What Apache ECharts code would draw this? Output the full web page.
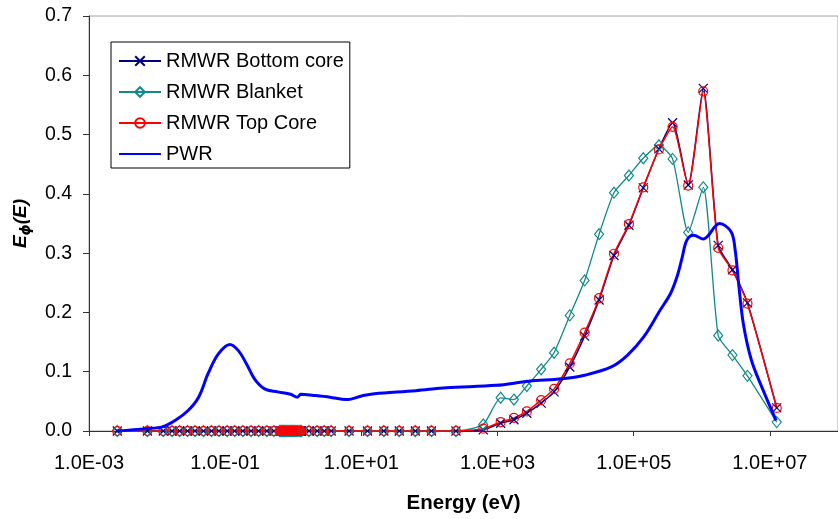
<!DOCTYPE html>
<html lang="en">
<head>
    <meta charset="UTF-8">
    <title>Neutron spectrum</title>
    <script src="https://cdn.jsdelivr.net/npm/echarts@6/dist/echarts.min.js"></script>
    <style>
        html, body { margin: 0; padding: 0; background: #fff; }
        #chart { width: 838px; height: 519px; }
    </style>
</head>
<body>
    <div id="chart"></div>

    <script>
        // energy groups (eV) where the RMWR flux is ~0
        var thermalEnergy = [0.0026, 0.0072, 0.0123, 0.0166, 0.0214, 0.028, 0.036, 0.048, 0.063, 0.081,
            0.107, 0.138, 0.182, 0.24, 0.31, 0.41, 0.52, 0.63, 0.65, 0.67, 0.69, 0.71, 0.73, 0.75,
            0.78, 0.80, 0.83, 0.86, 0.89, 0.92, 0.95, 0.98, 1.01, 1.05, 1.09, 1.13, 1.17, 1.22, 1.27,
            1.32, 1.7, 2.24, 2.85, 3.6, 6.6, 12.3, 21.4, 36, 62, 107, 245];
        var thermalFlux = [0, 0, 0, 0, 0, 0, 0, 0, 0, 0,
            0, 0, 0, 0, 0, 0, 0, 0, 0, 0, 0, 0, 0, 0,
            0, 0, 0, 0, 0, 0, 0, 0, 0, 0, 0, 0, 0, 0, 0,
            0, 0, 0, 0, 0, 0, 0, 0, 0, 0, 0, 0];

        // fast energy groups (eV)
        var fastEnergy = [617, 1110, 1740, 2690, 4370, 6760, 11500, 19000, 31000, 51300,
            85000, 138000, 234000, 372000, 631000, 1.05e6, 1.74e6, 2.82e6, 4.68e6, 1.26e7];
        var bottomCore = [0.002, 0.013, 0.019, 0.030, 0.047, 0.066, 0.108, 0.160, 0.221, 0.296,
            0.347, 0.410, 0.476, 0.520, 0.415, 0.578, 0.313, 0.272, 0.216, 0.039];
        var blanket = [0.011, 0.056, 0.053, 0.076, 0.104, 0.132, 0.195, 0.254, 0.332, 0.402,
            0.431, 0.460, 0.482, 0.459, 0.335, 0.411, 0.161, 0.128, 0.093, 0.015];
        var topCore = [0.004, 0.015, 0.022, 0.033, 0.052, 0.071, 0.114, 0.166, 0.224, 0.299,
            0.349, 0.411, 0.475, 0.513, 0.414, 0.573, 0.309, 0.271, 0.215, 0.039];

        // PWR spectrum
        var pwrEnergy = [0.00257, 0.00692, 0.0120, 0.0186, 0.0288, 0.0407, 0.0562, 0.0794, 0.117, 0.155,
            0.204, 0.269, 0.380, 0.589, 0.912, 1.15, 1.29, 2.0, 3.47, 6.03, 10.7, 15.5, 63, 178, 955,
            2880, 8900, 19000, 46800, 81300, 141000, 245000, 347000, 437000, 513000, 603000, 759000,
            1.05e6, 1.82e6, 2.69e6, 3.09e6, 3.47e6, 4.07e6, 5.37e6, 7.94e6, 1.23e7];
        var pwrFlux = [0, 0.004, 0.007, 0.018, 0.035, 0.057, 0.097, 0.130, 0.146, 0.136,
            0.114, 0.088, 0.071, 0.066, 0.062, 0.057, 0.062, 0.060, 0.057, 0.053, 0.060, 0.063, 0.068, 0.073, 0.077,
            0.084, 0.088, 0.094, 0.108, 0.128, 0.159, 0.204, 0.232, 0.262, 0.292, 0.322, 0.330,
            0.324, 0.350, 0.336, 0.305, 0.249, 0.181, 0.119, 0.069, 0.018];

        var xTicks = [1e-3, 1e-1, 1e1, 1e3, 1e5, 1e7];

        function pairs(xs, ys) {
            var out = [];
            for (var i = 0; i < xs.length; i++) out.push([xs[i], ys[i]]);
            return out;
        }

        function rmwr(ys) {
            return pairs(thermalEnergy, thermalFlux).concat(pairs(fastEnergy, ys));
        }

        function sciLabel(v) {
            var e = Math.round(Math.log10(v));
            var s = String(Math.abs(e));
            if (s.length < 2) s = '0' + s;
            return '1.0E' + (e < 0 ? '-' : '+') + s;
        }

        var font = 'Liberation Sans, Arial, sans-serif';
        var chart = echarts.init(document.getElementById('chart'));

        var option = {
            animation: false,
            backgroundColor: '#fff',
            textStyle: { fontFamily: font },
            grid: {
                left: 89, top: 16, right: -10, bottom: 88,
                show: true, borderColor: '#a0a0a0', borderWidth: 1
            },
            legend: {
                orient: 'vertical',
                left: 111, top: 42,
                itemWidth: 42, itemHeight: 12, itemGap: 11,
                padding: [9, 6, 4, 7],
                borderColor: '#000', borderWidth: 1, borderRadius: 0,
                backgroundColor: '#fff',
                textStyle: { fontSize: 20, color: '#000', fontFamily: font },
                data: [
                    'RMWR Bottom core',
                    'RMWR Blanket',
                    'RMWR Top Core',
                    { name: 'PWR', itemStyle: { opacity: 0 } }
                ]
            },
            xAxis: {
                type: 'log',
                logBase: 10,
                min: 1e-3,
                max: 1e8,
                name: 'Energy (eV)',
                nameLocation: 'middle',
                nameGap: 62,
                nameTextStyle: { fontSize: 20.5, fontWeight: 'bold', color: '#000', fontFamily: font },
                axisLine: { lineStyle: { color: '#333', width: 1 } },
                axisTick: { show: true, length: 5, customValues: xTicks, lineStyle: { color: '#333' } },
                minorTick: { show: false },
                splitLine: { show: false },
                axisLabel: {
                    customValues: xTicks,
                    margin: 22,
                    fontSize: 20,
                    color: '#000',
                    formatter: sciLabel
                }
            },
            yAxis: {
                type: 'value',
                min: 0,
                max: 0.7,
                interval: 0.1,
                name: '{a|E}{b|ϕ}{a|(E)}',
                nameLocation: 'middle',
                nameRotate: 90,
                nameGap: 56,
                nameTextStyle: {
                    rich: {
                        a: { fontSize: 19, fontWeight: 'bold', fontStyle: 'italic', color: '#000', fontFamily: font },
                        b: { fontSize: 14, fontWeight: 'bold', fontStyle: 'italic', color: '#000', padding: [10, 0, 0, 0], fontFamily: 'DejaVu Sans, sans-serif' }
                    }
                },
                axisLine: { show: true, lineStyle: { color: '#333', width: 1 } },
                axisTick: { show: true, length: 6, lineStyle: { color: '#333' } },
                splitLine: { show: false },
                axisLabel: {
                    margin: 17,
                    fontSize: 19.5,
                    color: '#000',
                    formatter: function (v) { return v.toFixed(1); }
                }
            },
            series: [
                {
                    name: 'RMWR Bottom core',
                    type: 'line',
                    data: rmwr(bottomCore),
                    smooth: 0.2,
                    clip: false,
                    symbol: 'path://M0,0L10,10M0,10L10,0',
                    symbolSize: 9,
                    lineStyle: { color: '#000080', width: 1.5 },
                    itemStyle: { color: '#000080', borderColor: '#000080', borderWidth: 1.2 }
                },
                {
                    name: 'RMWR Blanket',
                    type: 'line',
                    data: rmwr(blanket),
                    smooth: 0.2,
                    clip: false,
                    symbol: 'diamond',
                    symbolSize: [9, 11],
                    lineStyle: { color: '#12898a', width: 1.3 },
                    itemStyle: { color: 'rgba(255,255,255,0)', borderColor: '#12898a', borderWidth: 1.2 }
                },
                {
                    name: 'RMWR Top Core',
                    type: 'line',
                    data: rmwr(topCore),
                    smooth: 0.2,
                    clip: false,
                    symbol: 'circle',
                    symbolSize: 9,
                    z: 3,
                    lineStyle: { color: '#ff0000', width: 1.5 },
                    itemStyle: { color: 'rgba(255,255,255,0)', borderColor: '#ff0000', borderWidth: 1.2 }
                },
                {
                    name: 'PWR',
                    type: 'line',
                    data: pairs(pwrEnergy, pwrFlux),
                    smooth: 0.35,
                    clip: false,
                    showSymbol: false,
                    symbol: 'none',
                    z: 4,
                    lineStyle: { color: '#0000ff', width: 3 },
                    itemStyle: { color: '#0000ff' }
                }
            ]
        };

        chart.setOption(option);
    </script>
</body>
</html>
